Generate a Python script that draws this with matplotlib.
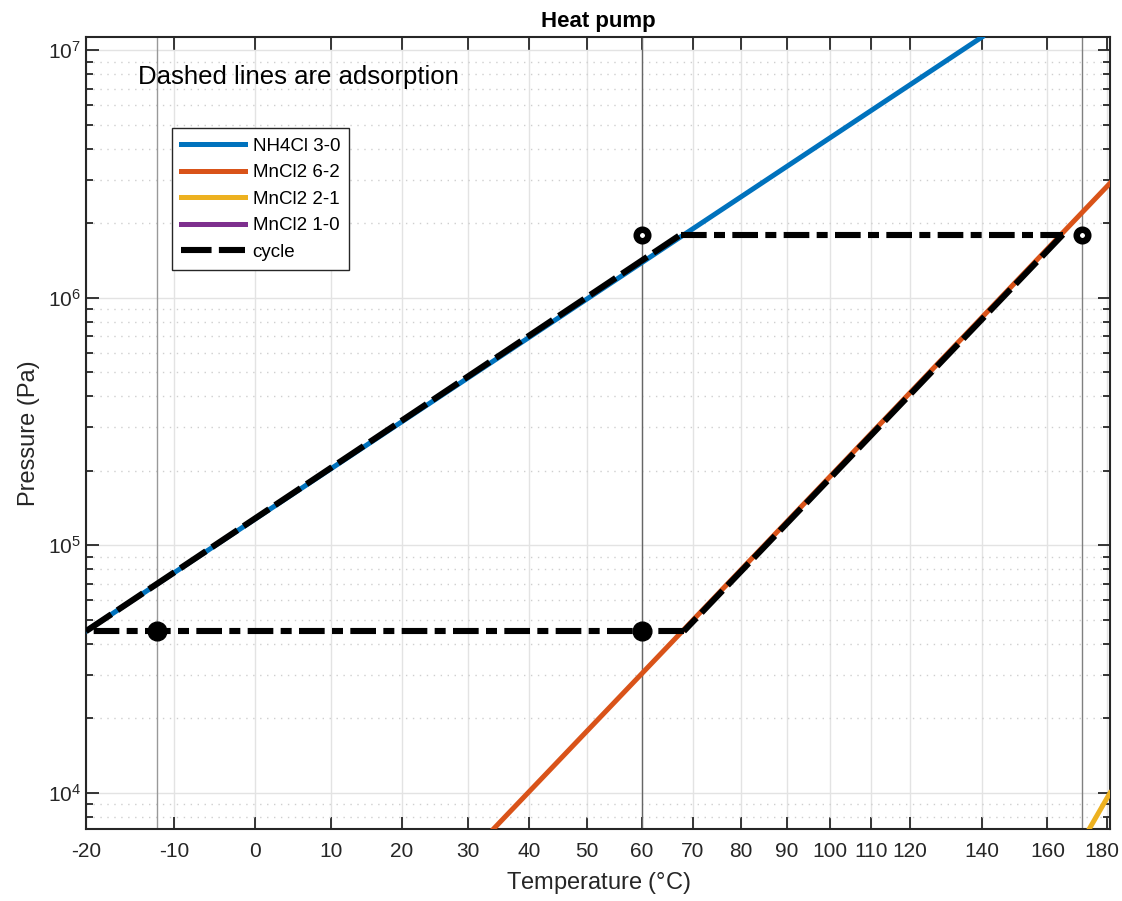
import numpy as np
import matplotlib.pyplot as plt
import matplotlib.transforms as mtransforms
from matplotlib.ticker import LogLocator, NullFormatter, FixedLocator

plt.rcParams['font.family'] = ['Liberation Sans', 'DejaVu Sans']
plt.rcParams['mathtext.fontset'] = 'custom'
plt.rcParams['mathtext.rm'] = 'Liberation Sans'

# equilibrium lines, temperature in degC and pressure in Pa
nh4cl_T = [-20, 140]
nh4cl_P = [4.5e4, 1.13e7]
mn62_T = [34, 181]
mn62_P = [7.1e3, 2.9e6]
mn21_T = [173.8, 181]
mn21_P = [7.15e3, 1.0e4]
mn10_T = [175, 181]
mn10_P = [1.0e3, 1.5e3]

# heat pump cycle corners
cycle_T = [-20, 67.6, 165, 68.2, -20]
cycle_P = [4.5e4, 1.8e6, 1.8e6, 4.5e4, 4.5e4]

# state points
low_T = [-12, 60]
low_P = [4.5e4, 4.5e4]
high_T = [60, 171.5]
high_P = [1.8e6, 1.8e6]
vline_T = [-12, 60, 171.5]
vline_col = ['0.6', '0.4', '0.5']

xtick_vals = [-20, -10, 0, 10, 20, 30, 40, 50, 60, 70, 80, 90, 100, 110, 120, 140, 160, 180]


def fwd(t):
    t = np.asarray(t, dtype=float)
    with np.errstate(divide='ignore', invalid='ignore'):
        return -1.0 / (t + 273.15)


def inv(x):
    x = np.asarray(x, dtype=float)
    with np.errstate(divide='ignore', invalid='ignore'):
        return -1.0 / x - 273.15


fig = plt.figure(figsize=(11.22, 9.01), dpi=100)
ax = fig.add_axes([0.0766, 0.0799, 0.9127, 0.879])
ax.set_xscale('function', functions=(fwd, inv))
ax.set_yscale('log')

ax.plot(nh4cl_T, nh4cl_P, color='#0072BD', lw=3.6, label='NH4Cl 3-0', zorder=3)
ax.plot(mn62_T, mn62_P, color='#D95319', lw=3.6, label='MnCl2 6-2', zorder=3)
ax.plot(mn21_T, mn21_P, color='#EDB120', lw=3.6, label='MnCl2 2-1', zorder=3)
ax.plot(mn10_T, mn10_P, color='#7E2F8E', lw=3.6, label='MnCl2 1-0', zorder=3)

for T in vline_T:
    ax.axvline(T, color=vline_col[vline_T.index(T)], lw=1, zorder=2)

first = True
for i in range(len(cycle_T) - 1):
    seg_T = cycle_T[i:i + 2]
    seg_P = cycle_P[i:i + 2]
    if seg_P[0] == seg_P[1]:
        ax.plot(seg_T, seg_P, color='k', lw=4.4, dashes=(4.2, 1.2, 1.8, 1.2), zorder=4)
    else:
        ax.plot(seg_T, seg_P, color='k', lw=4.4, dashes=(5, 1.2), zorder=4,
                label='cycle' if first else None)
        first = False

ax.plot(low_T, low_P, 'o', color='k', ms=13.5, zorder=5)
ax.plot(high_T, high_P, 'o', mfc='white', mec='k', ms=8.3, mew=4.7, zorder=5)

ax.set_xlim(-20, 181)
ax.set_ylim(7.15e3, 1.13e7)
ax.xaxis.set_major_locator(FixedLocator(xtick_vals))
ax.set_xticklabels([str(v) for v in xtick_vals])
ax.xaxis.set_minor_locator(FixedLocator([]))
ax.yaxis.set_major_locator(LogLocator(base=10, numticks=10))
ax.yaxis.set_minor_locator(LogLocator(base=10, subs=np.arange(2, 10), numticks=20))
ax.yaxis.set_minor_formatter(NullFormatter())

ax.grid(True, which='major', color='#e3e3e3', lw=1, zorder=0)
ax.grid(True, which='minor', axis='y', color='#cfcfcf', lw=1, ls=(0, (1, 4)), zorder=0)
ax.set_axisbelow(True)

ax.tick_params(which='both', direction='in', top=True, right=True, colors='#262626',
               labelsize=15, width=1.3)
ax.tick_params(which='major', length=9)
ax.tick_params(which='minor', length=5)
ax.tick_params(axis='x', pad=9)
for s in ax.spines.values():
    s.set_color('#262626')
    s.set_linewidth(1.5)

# nudge the last x label so it stays inside the figure
last = ax.get_xticklabels()[-1]
last.set_transform(last.get_transform() +
                   mtransforms.ScaledTranslation(-5 / 100, 0, fig.dpi_scale_trans))

ax.set_title('Heat pump', fontsize=16, fontweight='bold', pad=7)
ax.set_xlabel('Temperature ($\\degree$C)', fontsize=17, color='#262626', labelpad=7)
ax.set_ylabel('Pressure (Pa)', fontsize=17, color='#262626', labelpad=6)
ax.text(0.051, 0.949, 'Dashed lines are adsorption', transform=ax.transAxes,
        fontsize=18.5, va='center', ha='left')

leg = ax.legend(loc='upper left', bbox_to_anchor=(0.084, 0.885), borderaxespad=0,
                fontsize=13.5, handlelength=3.4, handletextpad=0.4, fancybox=False,
                framealpha=1, edgecolor='#262626', labelspacing=0.5, borderpad=0.5)
leg.get_frame().set_linewidth(1)

fig.savefig('out.png', dpi=100)
